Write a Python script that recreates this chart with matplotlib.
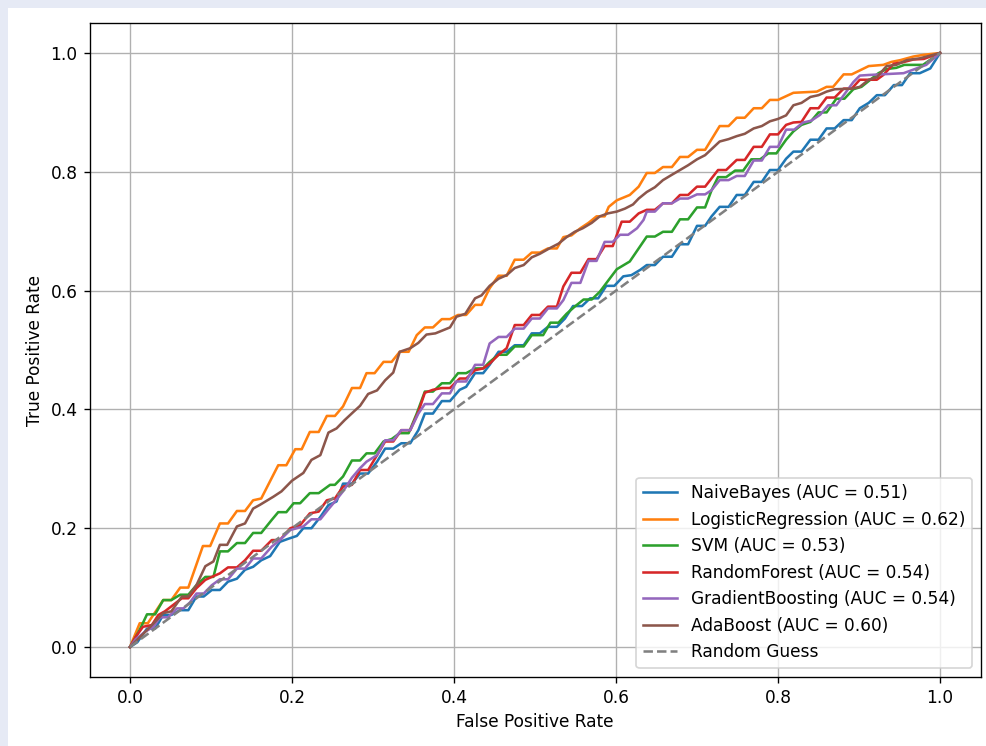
import matplotlib
matplotlib.use('Agg')
import matplotlib.pyplot as plt
from matplotlib.patches import Rectangle

# ROC points
fpr_nb = [0, .009, .021, .031, .041, .051, .062, .072, .082, .091, .101, .111, .121, .132, .142, .152, .162, .173, .185, .195,
          .206, .214, .224, .235, .245, .255, .263, .274, .284, .294, .305, .315, .325, .335, .346, .356, .364, .374, .385, .395,
          .407, .415, .426, .436, .444, .455, .465, .475, .486, .496, .506, .516, .527, .537, .547, .558, .568, .578, .588, .598,
          .609, .619, .63, .638, .648, .658, .669, .679, .689, .70, .71, .718, .728, .739, .749, .759, .77, .78, .79, .80,
          .81, .819, .829, .84, .85, .86, .87, .881, .891, .901, .912, .922, .932, .943, .953, .963, .975, .988, 1.0]
tpr_nb = [0, .008, .031, .031, .054, .054, .062, .062, .085, .085, .096, .096, .11, .115, .13, .135, .146, .153, .177, .182,
          .187, .2, .2, .219, .239, .245, .275, .275, .292, .292, .312, .334, .334, .343, .343, .365, .393, .393, .414, .414,
          .433, .438, .461, .461, .475, .497, .497, .508, .508, .528, .528, .539, .539, .553, .574, .574, .587, .587, .608, .608,
          .624, .626, .635, .643, .643, .657, .657, .678, .678, .709, .709, .725, .741, .741, .761, .761, .783, .783, .803, .803,
          .822, .834, .834, .854, .854, .873, .873, .887, .887, .907, .916, .929, .929, .946, .946, .966, .966, .974, 1.0]

fpr_lr = [0, .012, .022, .041, .051, .062, .072, .09, .099, .111, .121, .132, .142, .152, .162, .183, .193, .204, .212, .222,
          .233, .243, .253, .263, .274, .284, .292, .302, .313, .323, .333, .344, .354, .364, .374, .385, .395, .405, .415, .426,
          .434, .444, .455, .465, .475, .486, .496, .506, .516, .527, .535, .545, .556, .566, .576, .586, .591, .601, .617, .628,
          .638, .648, .658, .669, .679, .689, .70, .71, .728, .739, .749, .759, .77, .78, .79, .80, .819, .848, .86, .868,
          .881, .891, .912, .93, .94, .951, .967, .98, 1.0]
tpr_lr = [0, .04, .04, .079, .079, .10, .10, .17, .17, .208, .208, .229, .229, .247, .25, .306, .306, .333, .333, .362,
          .362, .389, .389, .405, .436, .436, .461, .461, .48, .48, .497, .497, .525, .538, .538, .552, .552, .559, .559, .576,
          .576, .604, .625, .625, .652, .652, .664, .664, .671, .671, .69, .693, .705, .714, .725, .725, .741, .752, .761, .775,
          .798, .798, .808, .808, .825, .825, .837, .837, .877, .877, .891, .891, .907, .907, .921, .921, .933, .935, .943, .943,
          .964, .964, .978, .98, .985, .988, .994, .997, 1.0]

fpr_svm = [0, .012, .021, .031, .041, .051, .062, .072, .082, .093, .103, .111, .121, .132, .142, .152, .162, .175, .183, .193,
           .202, .21, .222, .233, .247, .253, .263, .274, .284, .292, .302, .313, .323, .333, .344, .354, .364, .374, .385, .395,
           .405, .415, .426, .436, .444, .455, .465, .475, .486, .496, .51, .519, .529, .539, .549, .56, .57, .58, .591, .601,
           .617, .628, .638, .648, .658, .669, .679, .689, .70, .71, .718, .726, .736, .747, .757, .767, .778, .788, .798, .81,
           .819, .829, .84, .85, .86, .872, .882, .893, .903, .914, .924, .934, .946, .956, .967, .979, 1.0]
tpr_svm = [0, .029, .055, .055, .079, .079, .088, .088, .104, .118, .118, .161, .161, .175, .175, .192, .192, .214, .227, .227,
           .242, .242, .259, .259, .273, .273, .287, .314, .314, .326, .326, .346, .35, .36, .36, .393, .43, .43, .444, .444,
           .461, .461, .469, .469, .48, .492, .492, .506, .506, .525, .525, .546, .546, .561, .573, .585, .585, .598, .618, .636,
           .649, .671, .691, .691, .699, .699, .72, .72, .74, .74, .769, .791, .791, .802, .802, .821, .821, .831, .831, .854,
           .868, .879, .884, .90, .90, .923, .923, .939, .943, .955, .966, .973, .975, .98, .98, .98, 1.0]

fpr_rf = [0, .007, .016, .027, .035, .043, .064, .072, .082, .093, .101, .111, .121, .132, .142, .152, .162, .175, .185, .198,
          .21, .222, .233, .243, .253, .263, .274, .284, .294, .305, .315, .325, .335, .346, .356, .364, .374, .385, .395, .407,
          .415, .426, .436, .444, .455, .465, .475, .486, .496, .506, .516, .527, .535, .545, .556, .566, .576, .586, .596, .607,
          .617, .628, .638, .648, .658, .669, .679, .689, .70, .71, .726, .736, .749, .759, .77, .78, .79, .80, .81, .819,
          .829, .84, .85, .86, .87, .881, .891, .901, .911, .922, .93, .943, .953, .967, .98, 1.0]
tpr_rf = [0, .017, .034, .037, .054, .06, .082, .082, .099, .113, .118, .124, .134, .134, .146, .162, .162, .18, .18, .2,
          .205, .225, .228, .247, .25, .27, .273, .298, .298, .323, .346, .346, .365, .365, .396, .428, .433, .436, .436, .452,
          .452, .466, .469, .477, .492, .503, .542, .542, .559, .559, .573, .573, .607, .63, .63, .653, .653, .675, .675, .716,
          .716, .73, .736, .736, .747, .747, .761, .761, .775, .775, .803, .803, .82, .82, .842, .842, .863, .863, .879, .883,
          .884, .907, .907, .925, .925, .94, .94, .955, .955, .955, .963, .982, .984, .989, .99, 1.0]

fpr_gb = [0, .007, .019, .029, .037, .047, .058, .066, .074, .082, .091, .101, .111, .121, .132, .142, .152, .162, .175, .185,
          .198, .214, .224, .235, .245, .253, .263, .274, .284, .292, .305, .315, .325, .335, .346, .356, .364, .374, .385, .395,
          .403, .415, .426, .436, .444, .455, .465, .475, .486, .496, .506, .516, .527, .535, .545, .556, .566, .576, .586, .596,
          .605, .615, .626, .634, .638, .648, .658, .669, .679, .689, .70, .71, .718, .728, .739, .749, .759, .77, .78, .79,
          .80, .81, .82, .831, .841, .852, .862, .872, .893, .901, .912, .955, .983, 1.0]
tpr_gb = [0, .013, .026, .034, .05, .05, .065, .065, .075, .09, .09, .104, .114, .114, .132, .132, .149, .149, .169, .18,
          .197, .203, .215, .215, .232, .245, .262, .285, .301, .312, .323, .348, .348, .365, .365, .393, .409, .409, .427, .427,
          .447, .447, .475, .475, .511, .522, .522, .536, .536, .553, .553, .57, .57, .584, .613, .613, .65, .65, .682, .682,
          .694, .694, .705, .719, .733, .733, .747, .747, .755, .755, .762, .762, .769, .786, .786, .793, .793, .819, .819, .842,
          .842, .871, .871, .883, .886, .896, .912, .912, .951, .962, .963, .966, .98, 1.0]

fpr_ada = [0, .025, .041, .051, .064, .072, .082, .093, .103, .111, .12, .132, .142, .152, .16, .177, .187, .2, .214, .224,
           .235, .245, .255, .265, .276, .284, .294, .305, .315, .325, .333, .346, .356, .366, .377, .395, .403, .414, .426, .434,
           .444, .455, .465, .475, .486, .496, .506, .519, .529, .539, .549, .559, .57, .58, .59, .601, .611, .621, .628, .638,
           .648, .658, .669, .679, .689, .70, .71, .728, .739, .749, .759, .77, .78, .79, .80, .81, .819, .829, .84, .85,
           .86, .87, .891, .901, .912, .922, .934, .946, .959, .975, 1.0]
tpr_ada = [0, .034, .057, .06, .085, .085, .104, .136, .144, .172, .172, .203, .208, .233, .239, .253, .262, .28, .293, .315,
           .323, .361, .368, .382, .396, .406, .426, .432, .449, .462, .497, .503, .512, .526, .528, .538, .556, .561, .587, .592,
           .608, .62, .626, .638, .643, .656, .662, .672, .679, .69, .699, .705, .714, .725, .73, .733, .738, .745, .755, .766,
           .774, .786, .795, .803, .811, .821, .828, .851, .855, .86, .864, .873, .877, .885, .889, .895, .912, .916, .926, .929,
           .935, .939, .94, .943, .955, .959, .978, .98, .988, .991, 1.0]

models = ['NaiveBayes', 'LogisticRegression', 'SVM', 'RandomForest', 'GradientBoosting', 'AdaBoost']
auc_scores = [0.51, 0.62, 0.53, 0.54, 0.54, 0.60]
curves = [(fpr_nb, tpr_nb), (fpr_lr, tpr_lr), (fpr_svm, tpr_svm),
          (fpr_rf, tpr_rf), (fpr_gb, tpr_gb), (fpr_ada, tpr_ada)]

# the reference looks like an 8x6 figure shown at ~1.225x, so scale everything with dpi
W, H = 986, 746
DPI = 122.5
fig = plt.figure(figsize=(W / DPI, H / DPI), dpi=DPI, facecolor='#e6eaf5')
# white page with a thin lavender margin at top and left
fig.add_artist(Rectangle((8 / W, 0), 1 - 8 / W, 1 - 8 / H, transform=fig.transFigure,
                         facecolor='white', edgecolor='none', zorder=-10))

ax = fig.add_axes([89.5 / W, (H - 676.7) / H, 891 / W, 653.4 / H])

for name, auc_val, (fpr, tpr) in zip(models, auc_scores, curves):
    ax.plot(fpr, tpr, label=f'{name} (AUC = {auc_val:.2f})')

ax.plot([0, 1], [0, 1], linestyle='--', color='gray', label='Random Guess')

ax.set_xlabel('False Positive Rate')
ax.set_ylabel('True Positive Rate')
ax.legend(loc='lower right')
ax.grid(True)

fig.savefig('out.png', dpi=DPI, facecolor=fig.get_facecolor())
